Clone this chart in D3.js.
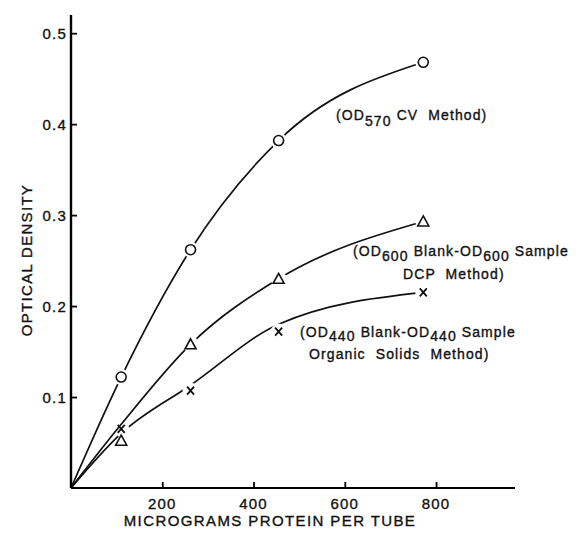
<!DOCTYPE html>
<html lang="en">
<head>
  <meta charset="UTF-8">
  <title>Optical density vs protein</title>
  <script src="https://cdn.jsdelivr.net/npm/d3@7"></script>
  <style>
    body { margin: 0; background: #fff; }
    svg { display: block; }
    .lbl { font-family: "Liberation Sans", Arial, sans-serif; fill: #111; stroke: #111; stroke-width: 0.35; }
  </style>
</head>
<body>
  <div id="chart"></div>
  <script>
    // micrograms protein per tube at which the tubes were read
    const protein = [110, 262, 455, 772];

    // measured points
    const cvPoints = [0.122, 0.262, 0.382, 0.468];    // circles, OD570 CV
    const dcpPoints = [0.052, 0.158, 0.230, 0.293];   // triangles, DCP
    const solidsPoints = [0.065, 0.107, 0.172, 0.215]; // crosses, organic solids

    // hand-drawn fitted curves (start at origin)
    const fitX = [0, 110, 262, 455, 772];
    const cvFit = [0, 0.122, 0.262, 0.382, 0.468];
    const dcpFit = [0, 0.070, 0.158, 0.230, 0.293];
    const solidsFit = [0, 0.060, 0.113, 0.180, 0.215];

    const xTicks = [200, 400, 600, 800];
    const yTicks = [0.1, 0.2, 0.3, 0.4, 0.5];

    const width = 578, height = 536;
    const svg = d3.select('#chart').append('svg')
      .attr('width', width)
      .attr('height', height);

    const x = d3.scaleLinear().domain([0, 973]).range([71, 515]);
    const y = d3.scaleLinear().domain([0, 0.52]).range([488, 15]);

    const series = [
      { id: 'cv', pts: cvPoints, fit: cvFit, shape: 'circle' },
      { id: 'dcp', pts: dcpPoints, fit: dcpFit, shape: 'triangle' },
      { id: 'solids', pts: solidsPoints, fit: solidsFit, shape: 'cross' }
    ];

    // masks so each curve breaks around its own markers
    const defs = svg.append('defs');
    series.forEach(s => {
      const m = defs.append('mask').attr('id', 'gap-' + s.id)
        .attr('maskUnits', 'userSpaceOnUse')
        .attr('x', 0).attr('y', 0).attr('width', width).attr('height', height);
      m.append('rect').attr('width', width).attr('height', height).attr('fill', '#fff');
      m.selectAll('circle').data(s.pts).join('circle')
        .attr('cx', (d, i) => x(protein[i]))
        .attr('cy', d => y(d))
        .attr('r', 8)
        .attr('fill', '#000');
    });

    const line = d3.line()
      .x((d, i) => x(fitX[i]))
      .y(d => y(d))
      .curve(d3.curveMonotoneX);

    series.forEach(s => {
      svg.append('path')
        .attr('d', line(s.fit))
        .attr('fill', 'none')
        .attr('stroke', '#111')
        .attr('stroke-width', 1.7)
        .attr('mask', 'url(#gap-' + s.id + ')');
    });

    // markers
    series.forEach(s => {
      const g = svg.append('g');
      s.pts.forEach((v, i) => {
        const cx = x(protein[i]), cy = y(v);
        if (s.shape === 'circle') {
          g.append('circle').attr('cx', cx).attr('cy', cy).attr('r', 5)
            .attr('fill', 'none').attr('stroke', '#111').attr('stroke-width', 1.6);
        } else if (s.shape === 'triangle') {
          g.append('path')
            .attr('d', `M${cx},${cy - 5.5}L${cx + 5.5},${cy + 4.5}L${cx - 5.5},${cy + 4.5}Z`)
            .attr('fill', 'none').attr('stroke', '#111').attr('stroke-width', 1.6);
        } else {
          g.append('path')
            .attr('d', `M${cx - 3.5},${cy - 4}L${cx + 3.5},${cy + 4}M${cx + 3.5},${cy - 4}L${cx - 3.5},${cy + 4}`)
            .attr('fill', 'none').attr('stroke', '#111').attr('stroke-width', 1.8);
        }
      });
    });

    // axes: ticks point inward
    const xAxis = d3.axisTop(x).tickValues(xTicks).tickSize(6).tickFormat('');
    svg.append('g').attr('transform', `translate(0,${y(0)})`).call(xAxis)
      .call(g => g.select('.domain').attr('d', `M${x(0)},0H${x(973)}`).attr('stroke-width', 2.2))
      .call(g => g.selectAll('.tick line').attr('stroke-width', 1.8));

    const yAxis = d3.axisRight(y).tickValues(yTicks).tickSize(6).tickFormat('');
    svg.append('g').attr('transform', `translate(${x(0)},0)`).call(yAxis)
      .call(g => g.select('.domain').attr('d', `M0,${y(0.52)}V${y(0)}`).attr('stroke-width', 2.4))
      .call(g => g.selectAll('.tick line').attr('stroke-width', 1.8));

    // tick labels
    svg.selectAll('.xt').data(xTicks).join('text')
      .attr('class', 'lbl xt')
      .attr('x', d => x(d)).attr('y', 509)
      .attr('text-anchor', 'middle')
      .attr('font-size', 15).attr('letter-spacing', 1.2)
      .text(d => d);

    svg.selectAll('.yt').data(yTicks).join('text')
      .attr('class', 'lbl yt')
      .attr('x', 67).attr('y', d => y(d) + 5.5)
      .attr('text-anchor', 'end')
      .attr('font-size', 15).attr('letter-spacing', 1.2)
      .text(d => d.toFixed(1));

    // axis titles
    svg.append('text').attr('class', 'lbl')
      .attr('x', 270).attr('y', 526)
      .attr('text-anchor', 'middle')
      .attr('font-size', 15).attr('letter-spacing', 1.4)
      .text('MICROGRAMS PROTEIN PER TUBE');

    svg.append('text').attr('class', 'lbl')
      .attr('transform', 'translate(32,260) rotate(-90)')
      .attr('text-anchor', 'middle')
      .attr('font-size', 15).attr('letter-spacing', 1.3)
      .text('OPTICAL DENSITY');

    // curve annotations, subscripts dropped a few pixels
    const notes = [
      { x: 336, y: 120, parts: [['(OD', 0], ['570', 6], [' CV  Method)', 0]] },
      { x: 353, y: 256, parts: [['(OD', 0], ['600', 5], [' Blank-OD', 0], ['600', 5], [' Sample', 0]] },
      { x: 403, y: 279, parts: [['DCP  Method)', 0]] },
      { x: 300, y: 337, parts: [['(OD', 0], ['440', 4], [' Blank-OD', 0], ['440', 4], [' Sample', 0]] },
      { x: 309, y: 359, parts: [['Organic  Solids  Method)', 0]] }
    ];
    notes.forEach(n => {
      const t = svg.append('text').attr('class', 'lbl')
        .attr('x', n.x).attr('y', n.y)
        .attr('font-size', 14).attr('letter-spacing', 1.1)
        .attr('xml:space', 'preserve');
      let prev = 0;
      n.parts.forEach(([txt, dy]) => {
        t.append('tspan').attr('dy', dy - prev).text(txt);
        prev = dy;
      });
    });
  </script>
</body>
</html>
